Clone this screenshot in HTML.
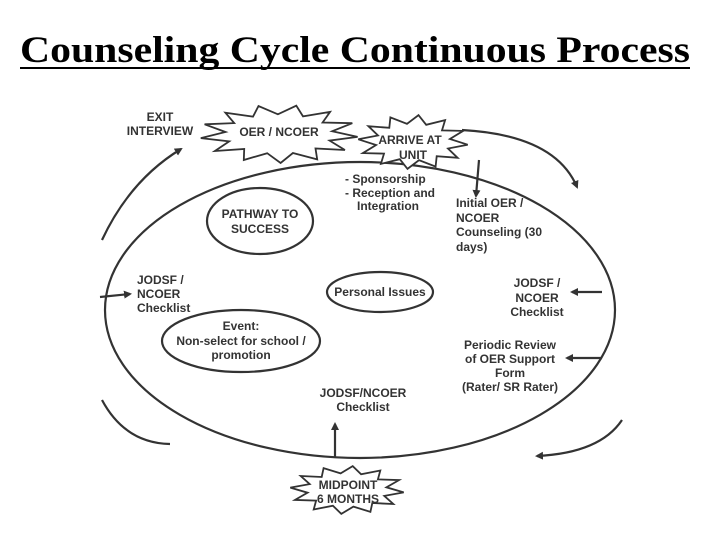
<!DOCTYPE html>
<html><head><style>
body{margin:0;background:#fff;width:720px;height:540px;overflow:hidden}
svg{display:block}
text{font-family:"Liberation Sans",Arial,sans-serif;font-size:12px;fill:#333;font-weight:bold}
.t{font-family:"Liberation Serif",serif;font-size:37px;fill:#000;font-weight:bold}
</style></head><body>
<svg width="720" height="540" viewBox="0 0 720 540">
<defs><marker id="a" markerWidth="8" markerHeight="8" refX="6" refY="4" orient="auto" markerUnits="userSpaceOnUse"><path d="M0,0 L8,4 L0,8 Z" fill="#333"/></marker></defs>
<text class="t" x="20" y="62" textLength="670" lengthAdjust="spacingAndGlyphs">Counseling Cycle Continuous Process</text>
<line x1="20" y1="68" x2="690" y2="68" stroke="#000" stroke-width="2"/>
<g fill="none" stroke="#333" stroke-width="2.2">
<ellipse cx="360" cy="310" rx="255" ry="148"/>
<path d="M102,240 Q130,180 181,149" marker-end="url(#a)"/>
<path d="M462,130 Q555,135 577,187" marker-end="url(#a)"/>
<path d="M102,400 Q125,443 170,444"/>
<path d="M622,420 Q600,453 537,456" marker-end="url(#a)"/>
<path d="M479,160 L476,196" marker-end="url(#a)"/>
<path d="M100,297 L130,294" marker-end="url(#a)"/>
<path d="M602,292 L572,292" marker-end="url(#a)"/>
<path d="M602,358 L567,358" marker-end="url(#a)"/>
<path d="M335,457 L335,424" marker-end="url(#a)"/>
<ellipse cx="260" cy="221" rx="53" ry="33"/>
<ellipse cx="380" cy="292" rx="53" ry="20"/>
<ellipse cx="241" cy="341" rx="79" ry="31"/>
</g>
<g id="stars" fill="#fff" stroke="#333" stroke-width="1.8"></g>
<g text-anchor="middle">
<text x="160" y="121">EXIT</text><text x="160" y="135">INTERVIEW</text>
<text x="279" y="136">OER / NCOER</text>
<text x="410" y="144">ARRIVE AT</text><text x="413" y="159">UNIT</text>
<text x="260" y="218">PATHWAY TO</text><text x="260" y="233">SUCCESS</text>
<text x="380" y="296">Personal Issues</text>
<text x="241" y="330">Event:</text><text x="241" y="345">Non-select for school /</text><text x="241" y="359">promotion</text>
<text x="363" y="397">JODSF/NCOER</text><text x="363" y="411">Checklist</text>
<text x="348" y="489">MIDPOINT</text><text x="348" y="503">6 MONTHS</text>
<text x="537" y="287">JODSF /</text><text x="537" y="302">NCOER</text><text x="537" y="316">Checklist</text>
<text x="510" y="349">Periodic Review</text><text x="510" y="363">of OER Support</text><text x="510" y="377">Form</text><text x="510" y="391">(Rater/ SR Rater)</text>
</g>
<g>
<text x="137" y="284">JODSF /</text><text x="137" y="298">NCOER</text><text x="137" y="312">Checklist</text>
<text x="345" y="183">-  Sponsorship</text><text x="345" y="197">-  Reception and</text><text x="357" y="210">Integration</text>
<text x="456" y="207">Initial OER /</text><text x="456" y="222">NCOER</text><text x="456" y="236">Counseling (30</text><text x="456" y="251">days)</text>
</g>
</svg>
<script>
function star(cx,cy,rx,ry,n,k){var p=[];for(var i=0;i<2*n;i++){var a=Math.PI*i/n+0.1;var r=i%2?k:1;p.push((cx+rx*r*Math.cos(a)).toFixed(1)+","+(cy+ry*r*Math.sin(a)).toFixed(1));}
var e=document.createElementNS("http://www.w3.org/2000/svg","polygon");e.setAttribute("points",p.join(" "));document.getElementById("stars").appendChild(e);}
star(279,134,79,29,13,0.68);star(413,142,55,27,12,0.68);star(347,490,57,24,12,0.7);
</script>
</body></html>
